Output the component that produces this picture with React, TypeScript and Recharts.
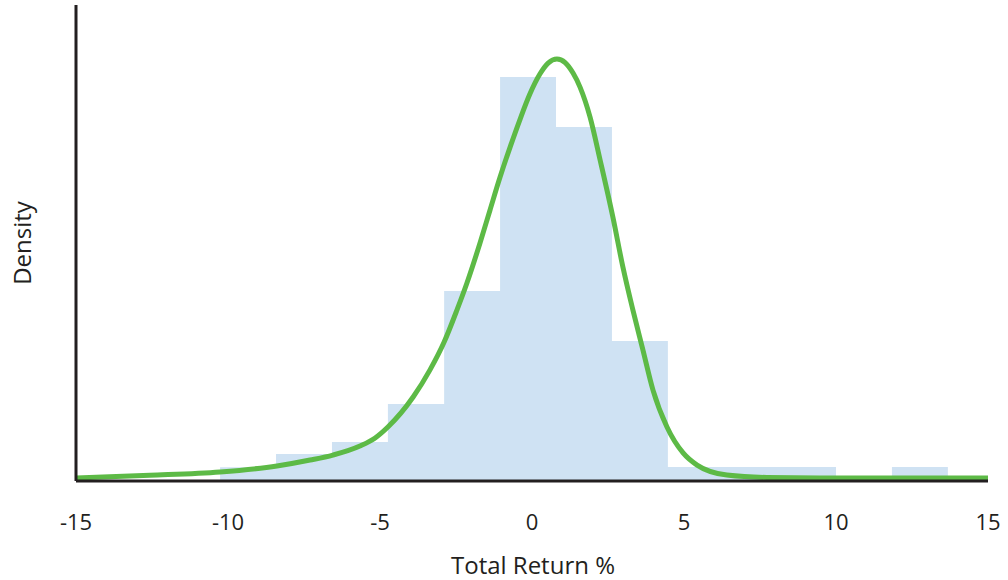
import React from "react";
import { ComposedChart, Area, Line, XAxis, YAxis, Label } from "recharts";

// Histogram bins: start edges, final edge and density values
const binStarts = [-10.26, -8.42, -6.58, -4.74, -2.89, -1.05, 0.79, 2.63, 4.47, 6.32, 8.16, 10.0, 11.84];
const binEnd = 13.68;
const binDensity = [0.0058, 0.0113, 0.0164, 0.0324, 0.0798, 0.1697, 0.1487, 0.0588, 0.0059, 0.0059, 0.0059, 0, 0.0059];

// Fitted density curve
const curveX = [-15, -12.57, -10.26, -8.39, -7.3, -6.55, -5.66, -5.16, -4.74, -3.91, -3.36, -2.89, -2.47, -2.14, -1.71, -1.38, -1.05, -0.72, -0.39, -0.07, 0.26, 0.53, 0.82, 1.09, 1.35, 1.58, 1.91, 2.24, 2.66, 2.99, 3.32, 3.65, 3.98, 4.44, 4.97, 5.43, 6.41, 7.73, 10, 12.5, 15];
const curveY = [0.0013, 0.0024, 0.0038, 0.0063, 0.0088, 0.0109, 0.0147, 0.0181, 0.0227, 0.0353, 0.0466, 0.0584, 0.0718, 0.0832, 0.1, 0.1139, 0.1277, 0.1403, 0.1521, 0.1626, 0.171, 0.1756, 0.1773, 0.1758, 0.1714, 0.1655, 0.1529, 0.1349, 0.1109, 0.0899, 0.0718, 0.055, 0.0382, 0.0227, 0.0118, 0.0067, 0.0025, 0.0015, 0.0013, 0.0013, 0.0013];

const xTicks = [-15, -10, -5, 0, 5, 10, 15];

const histPoints = [...binStarts, binEnd].map((x, i) => ({
  x,
  hist: i < binDensity.length ? binDensity[i] : binDensity[binDensity.length - 1],
}));

function histAt(x: number): number | null {
  if (x < binStarts[0] || x > binEnd) return null;
  let v = binDensity[0];
  for (let i = 0; i < binStarts.length; i++) {
    if (x >= binStarts[i]) v = binDensity[i];
  }
  return v;
}

const merged: { x: number; hist: number | null; curve: number | null }[] = [];
histPoints.forEach((p) => merged.push({ x: p.x, hist: p.hist, curve: null }));
curveX.forEach((x, i) => merged.push({ x, hist: histAt(x), curve: curveY[i] }));
merged.sort((a, b) => a.x - b.x);

const FONT = "'Open Sans', sans-serif";
const INK = "#231f20";

export default function App() {
  return (
    <div style={{ position: "absolute", left: 0, top: 0, width: 1008, height: 580, background: "#fff" }}>
      <ComposedChart width={1008} height={580} data={merged} margin={{ top: 5, right: 20, left: 0, bottom: 0 }}>
        <XAxis
          type="number"
          dataKey="x"
          domain={[-15, 15]}
          ticks={xTicks}
          allowDataOverflow
          height={99}
          tickLine={false}
          tickMargin={27}
          axisLine={{ stroke: INK, strokeWidth: 3 }}
          tick={{ fill: INK, fontSize: 22, fontFamily: FONT }}
        >
          <Label
            content={(props: any) => {
              const vb = props.viewBox || {};
              return (
                <text x={vb.x + vb.width / 2 + 1} y={vb.y + 93} textAnchor="middle" fill={INK} fontSize={24} fontFamily={FONT}>
                  Total Return %
                </text>
              );
            }}
          />
        </XAxis>
        <YAxis
          type="number"
          domain={[0, 0.2]}
          width={76}
          tick={false}
          tickLine={false}
          axisLine={{ stroke: INK, strokeWidth: 3 }}
        >
          <Label
            content={(props: any) => {
              const vb = props.viewBox || {};
              const cx = 31;
              const cy = vb.y + vb.height / 2;
              return (
                <text x={cx} y={cy} textAnchor="middle" transform={`rotate(-90 ${cx} ${cy})`} fill={INK} fontSize={24} fontFamily={FONT}>
                  Density
                </text>
              );
            }}
          />
        </YAxis>
        <Area
          dataKey="hist"
          type="stepAfter"
          stroke="none"
          fill="#cfe2f3"
          fillOpacity={1}
          isAnimationActive={false}
          dot={false}
          activeDot={false}
        />
        <Line
          dataKey="curve"
          type="monotone"
          stroke="#5dba46"
          strokeWidth={5}
          dot={false}
          activeDot={false}
          connectNulls
          isAnimationActive={false}
        />
      </ComposedChart>
    </div>
  );
}
